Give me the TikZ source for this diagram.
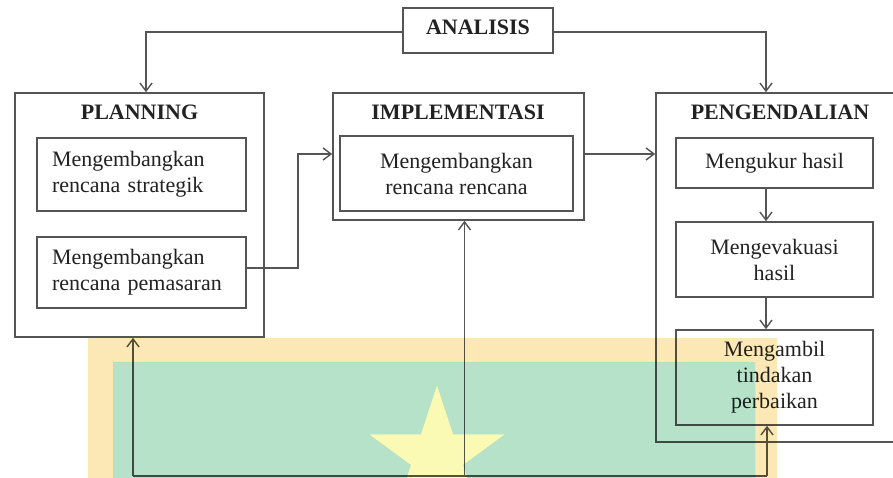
\documentclass[tikz,border=0pt]{standalone}
\usepackage{fontspec}
\setmainfont{Liberation Serif}
\usetikzlibrary{arrows.meta,calc}
\definecolor{lc}{HTML}{555555}
\definecolor{tc}{HTML}{222222}
\definecolor{wmyel}{RGB}{252,232,180}
\definecolor{wmgrn}{RGB}{181,226,200}
\definecolor{wmstar}{RGB}{250,250,180}
\begin{document}
\begin{tikzpicture}[x=1pt,y=-1pt,
  box/.style={draw=lc, line width=1.6pt, inner sep=0pt},
  txt/.style={text=tc, font=\fontsize{22}{26}\selectfont},
  ttl/.style={text=tc, font=\bfseries\fontsize{22}{26}\selectfont, anchor=base, inner sep=0pt},
  arr/.style={draw=lc, line width=1.5pt, -{Straight Barb[length=8pt,width=12pt,line width=1.4pt]}},
  ln/.style={draw=lc, line width=1.5pt},
  wm/.style={blend mode=multiply}]
\useasboundingbox (0,0) rectangle (893,478);
\fill[white] (0,0) rectangle (893,478);
\clip (0,0) rectangle (893,478);

% ANALISIS
\node[box, minimum width=150pt, minimum height=45pt] (an) at (478,30.5) {};
\node[ttl] (ant) at (478,35) {ANALISIS};

% PLANNING
\node[box, minimum width=249pt, minimum height=244pt] (pl) at (139.5,215) {};
\node[ttl] (plt) at (139.5,120) {PLANNING};
\node[box, txt, minimum width=209pt, minimum height=73pt, text width=179pt, align=left] (pl1) at (141.5,174.5) {Mengembangkan\\rencana strategik};
\node[box, txt, minimum width=209pt, minimum height=71pt, text width=179pt, align=left] (pl2) at (141.5,272.5) {Mengembangkan\\rencana pemasaran};

% IMPLEMENTASI
\node[box, minimum width=251pt, minimum height=127pt] (im) at (458.5,156.5) {};
\node[ttl] (imt) at (458,120) {IMPLEMENTASI};
\node[box, txt, minimum width=233pt, minimum height=75pt, align=center] (im1) at (456.5,173.5) {Mengembangkan\\rencana rencana};

% PENGENDALIAN
\node[box, minimum width=249pt, minimum height=349pt] (pg) at (780.5,267.5) {};
\node[ttl] (pgt) at (780,120) {PENGENDALIAN};
\node[box, txt, minimum width=197pt, minimum height=50pt, align=center] (pg1) at (774.5,163) {Mengukur hasil};
\node[box, txt, minimum width=197pt, minimum height=75pt, align=center] (pg2) at (774.5,259.5) {Mengevakuasi\\hasil};
\node[box, txt, minimum width=197pt, minimum height=95pt, align=center] (pg3) at (774.5,377.5) {Mengambil\\tindakan\\perbaikan};

% connectors
\draw[arr] ([yshift=-1.5pt]an.west) -| ([xshift=6.5pt]pl.north);
\draw[arr] ([yshift=-1.5pt]an.east) -| ([xshift=-14.5pt]pg.north);
\draw[arr] ([yshift=4.5pt]pl2.east) -- ++(51,0) |- ([yshift=2.5pt]im.west);
\draw[arr] ([yshift=2.5pt]im.east) -- ([yshift=2.5pt]im.east -| pg.west);
\draw[arr] ([xshift=-8.5pt]pg1.south) -- ([xshift=-8.5pt]pg2.north);
\draw[arr] ([xshift=-8.5pt]pg2.south) -- ([xshift=-8.5pt]pg3.north);

\coordinate (fbL) at (133,476);
\coordinate (fbM) at (464.5,476);
\coordinate (fbR) at (767,476);
\draw[ln] (fbL) -- (fbR);
\draw[arr] (fbL) -- (fbL |- pl.south);
\draw[arr] (fbM) -- (fbM |- im.south);
\draw[arr] (fbR) -- (fbR |- pg3.south);

% overlay
\begin{scope}[wm]
\fill[wmyel, even odd rule] (88,338) rectangle (777,490) (113,362) rectangle (755,490);
\fill[wmgrn, even odd rule] (113,362) rectangle (755,490)
  (437,385) -- (453.2,434.3) -- (505,434.4) -- (463.2,465) -- (479,514.3) -- (437,484)
  -- (395,514.3) -- (410.8,465) -- (369,434.4) -- (420.8,434.3) -- cycle;
\fill[wmstar]
  (437,385) -- (453.2,434.3) -- (505,434.4) -- (463.2,465) -- (479,514.3) -- (437,484)
  -- (395,514.3) -- (410.8,465) -- (369,434.4) -- (420.8,434.3) -- cycle;
\end{scope}
\end{tikzpicture}
\end{document}
